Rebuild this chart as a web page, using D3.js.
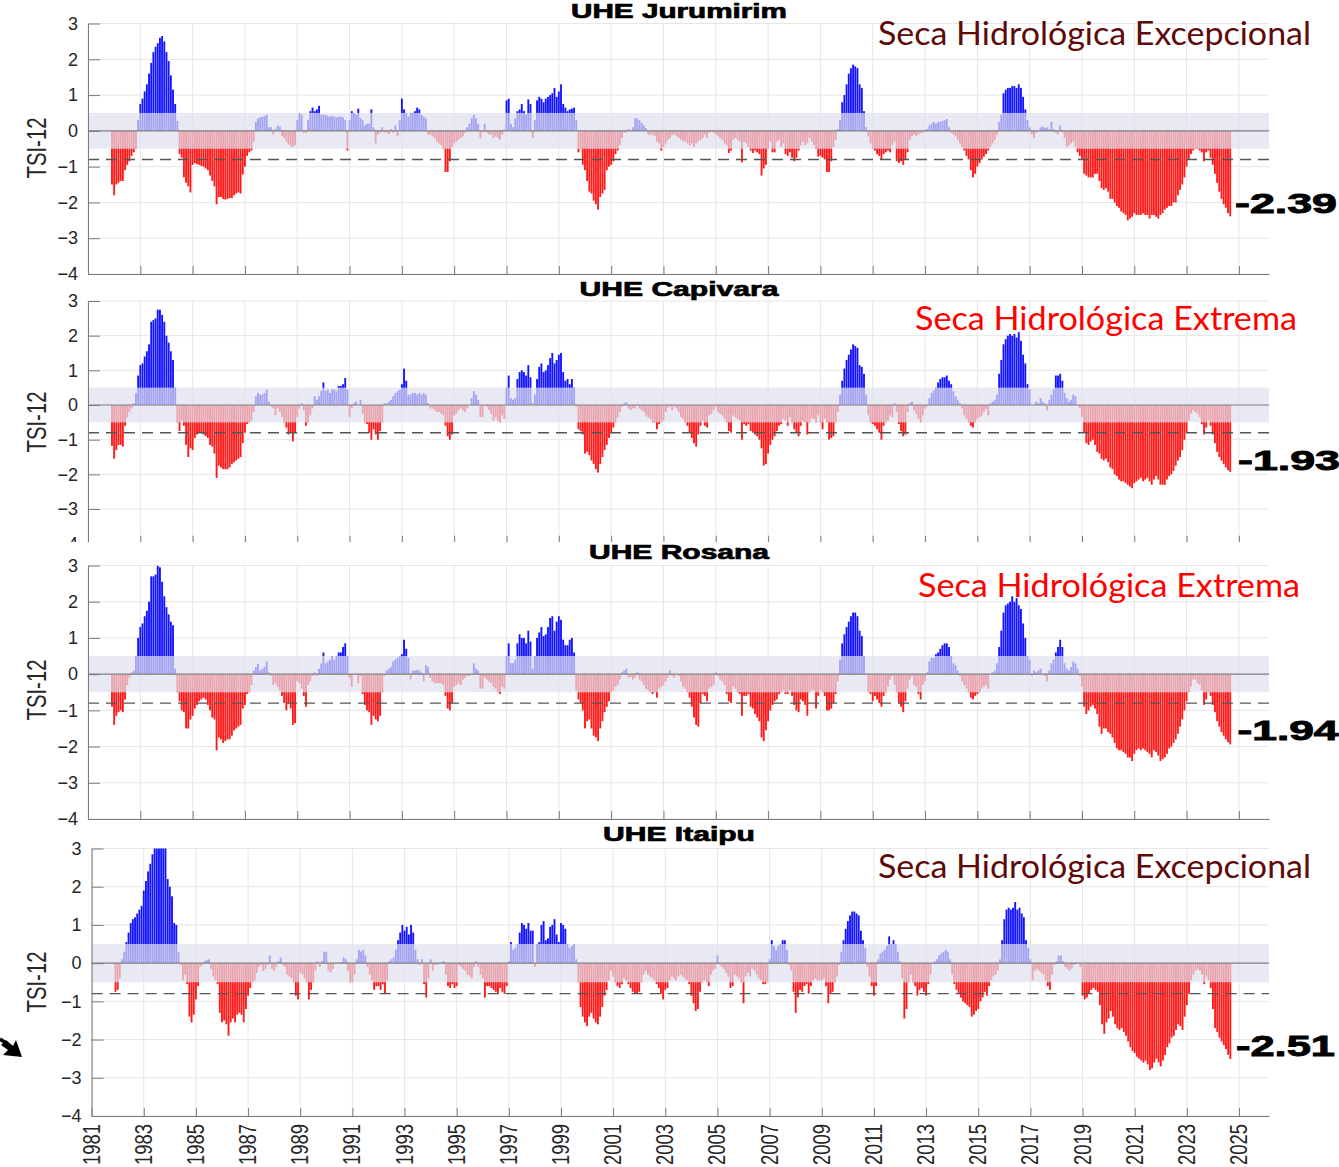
<!DOCTYPE html>
<html><head><meta charset="utf-8">
<script src="https://cdn.jsdelivr.net/npm/d3@7"></script>
<style>body{margin:0;background:#fff}svg{display:block}</style>
</head><body>
<svg id="chart" width="1339" height="1167"></svg>
<script>
// first value = Dec 1981, then monthly to Sep 2024
const startYear = 1981, startMonth = 11;

const jurumirim = [-1.5,
-1.8,-1.5,-1.45,-1.4,-1.4,-1.1,-0.95,-0.85,-0.7,-0.6,-0.5,0.3,
0.75,0.9,1.1,1.3,1.6,1.9,2.2,2.35,2.45,2.6,2.65,2.5,
2.2,1.95,1.55,1.15,0.75,0.28,-0.65,-0.75,-1.3,-1.45,-1.55,-1.72,
-0.95,-0.9,-0.93,-0.95,-0.98,-1.0,-1.05,-1.1,-1.25,-1.4,-1.55,-2.05,
-1.85,-1.85,-1.9,-1.92,-1.9,-1.88,-1.88,-1.8,-1.75,-1.72,-1.75,-1.22,
-1.0,-0.7,-0.6,-0.55,-0.3,0.25,0.35,0.38,0.4,0.42,0.45,0.1,
0.1,-0.1,0.05,0.15,0.12,-0.15,-0.2,-0.3,-0.38,-0.43,-0.45,-0.4,
0.3,0.5,0.45,-0.05,-0.05,0.3,0.55,0.65,0.55,0.6,0.7,0.45,
0.45,0.45,0.42,0.4,0.42,0.4,0.38,0.4,0.4,0.38,0.3,-0.55,
0.3,0.55,0.5,0.45,0.62,0.35,0.3,0.15,0.2,0.2,0.6,0.1,
-0.35,-0.1,-0.05,0.1,-0.05,-0.05,-0.08,0.05,-0.05,0.15,-0.15,0.3,
0.9,0.6,0.5,0.4,0.5,0.5,0.55,0.65,0.6,0.45,0.4,0.35,
-0.1,-0.1,-0.15,-0.2,-0.3,-0.35,-0.4,-0.5,-1.15,-1.15,-0.85,-0.45,
-0.35,-0.3,-0.25,-0.2,-0.15,-0.05,0.1,0.2,0.35,0.45,0.35,0.2,
-0.2,-0.05,0.2,-0.05,-0.1,-0.1,-0.2,-0.15,-0.2,-0.25,-0.1,0.05,
0.85,0.9,0.2,0.1,0.35,0.55,0.6,0.75,0.55,0.45,0.88,0.75,
-0.2,0.3,0.85,0.95,0.9,0.8,0.9,0.95,1.0,1.05,1.2,0.95,
1.1,1.3,0.75,0.65,0.55,0.6,0.62,0.65,0.3,-0.6,-0.5,-0.95,
-1.1,-1.4,-1.7,-1.75,-1.95,-2.05,-2.2,-1.85,-1.75,-1.65,-1.1,-1.0,
-0.95,-0.85,-0.65,-0.55,-0.4,-0.2,-0.05,-0.05,0.05,0.0,0.1,0.35,
0.35,0.3,0.22,0.15,0.08,-0.1,-0.12,-0.1,-0.15,-0.3,-0.35,-0.55,
-0.45,-0.35,-0.25,-0.2,-0.12,-0.1,-0.15,-0.2,-0.25,-0.3,-0.3,-0.35,
-0.4,-0.35,-0.45,-0.35,-0.3,-0.25,-0.2,-0.1,-0.2,-0.05,-0.02,-0.05,
-0.1,-0.15,-0.2,-0.25,-0.35,-0.4,-0.62,-0.55,-0.25,-0.2,-0.25,-0.3,
-0.88,-0.3,-0.35,-0.45,-0.55,-0.62,-0.55,-0.6,-0.65,-1.25,-1.05,-0.95,
-0.5,-0.3,-0.6,-0.6,-0.3,-0.25,-0.45,-0.35,-0.65,-0.7,-0.6,-0.75,
-0.85,-0.75,-0.55,-0.4,-0.3,-0.4,-0.35,-0.2,-0.3,-0.4,-0.5,-0.72,
-0.7,-0.75,-0.8,-1.15,-1.15,-0.85,-0.45,-0.25,0.05,0.3,0.8,1.0,
1.3,1.6,1.75,1.85,1.8,1.75,1.3,1.2,0.55,0.1,-0.15,-0.35,
-0.5,-0.55,-0.65,-0.7,-0.8,-0.65,-0.6,-0.55,-0.6,-0.4,-0.3,-0.85,
-0.9,-0.85,-0.95,-0.8,-0.6,-0.25,-0.15,-0.1,-0.15,-0.1,-0.05,-0.05,
0.0,0.05,0.15,0.2,0.25,0.2,0.25,0.25,0.28,0.3,0.33,0.1,
-0.05,-0.1,-0.15,-0.25,-0.35,-0.45,-0.55,-0.7,-0.8,-1.1,-1.3,-1.2,
-1.0,-0.9,-0.8,-0.72,-0.65,-0.55,-0.45,-0.35,-0.25,-0.1,0.25,0.45,
1.05,1.15,1.2,1.2,1.25,1.25,1.2,1.3,1.2,0.95,0.6,0.3,
0.1,-0.1,-0.2,-0.05,0.0,0.1,0.12,0.08,0.1,0.05,0.25,0.05,
-0.05,-0.1,0.15,-0.05,-0.2,-0.45,-0.4,-0.35,-0.3,-0.45,-0.6,-0.7,
-0.8,-1.2,-1.25,-1.3,-1.3,-1.3,-1.2,-1.2,-1.4,-1.6,-1.65,-1.6,
-1.7,-1.9,-1.9,-2.0,-2.1,-2.15,-2.25,-2.3,-2.35,-2.5,-2.45,-2.4,
-2.3,-2.35,-2.35,-2.35,-2.3,-2.35,-2.35,-2.45,-2.35,-2.35,-2.4,-2.45,
-2.35,-2.3,-2.2,-2.15,-2.1,-2.1,-2.0,-2.0,-1.8,-1.65,-1.5,-1.3,
-1.0,-0.8,-0.65,-0.55,-0.5,-0.5,-0.55,-0.6,-0.85,-0.6,-0.55,-0.75,
-0.95,-1.2,-1.45,-1.7,-1.9,-2.05,-2.15,-2.3,-2.39];

const capivara = [-1.18,
-1.55,-1.3,-1.15,-1.15,-1.2,-0.6,-0.35,-0.2,-0.1,0.05,0.35,0.85,
1.15,1.2,1.4,1.55,1.75,2.4,2.45,2.5,2.75,2.75,2.6,2.4,
2.0,1.8,1.55,1.3,0.5,-0.5,-0.75,-0.45,-0.6,-1.15,-1.5,-1.25,
-1.3,-0.95,-0.85,-0.8,-0.8,-0.85,-0.9,-0.95,-1.15,-1.2,-1.4,-2.1,
-1.75,-1.8,-1.85,-1.85,-1.85,-1.8,-1.7,-1.65,-1.6,-1.55,-1.5,-1.1,
-0.8,-0.55,-0.5,-0.45,-0.2,0.25,0.35,0.3,0.3,0.35,0.45,0.1,
-0.05,-0.1,-0.3,-0.1,-0.2,-0.35,-0.5,-0.65,-0.85,-0.8,-1.05,-0.8,
-0.35,-0.1,0.05,-0.15,-0.6,-0.5,-0.3,-0.1,0.25,0.15,0.25,0.4,
0.65,0.4,0.45,0.35,0.45,0.45,0.4,0.55,0.55,0.6,0.78,0.45,
-0.35,-0.1,0.05,0.1,0.0,0.15,-0.25,-0.5,-0.55,-0.8,-1.0,-0.7,
-0.85,-1.0,-0.75,-0.5,0.05,0.05,0.1,0.15,0.25,0.35,0.4,0.45,
0.6,1.05,0.7,0.3,0.3,0.35,0.35,0.3,0.35,0.3,0.35,0.3,
0.05,-0.1,-0.1,-0.15,-0.2,-0.2,-0.25,-0.3,-0.6,-0.9,-1.0,-0.85,
-0.3,-0.25,-0.15,-0.1,-0.15,-0.2,-0.1,0.0,0.2,0.4,0.3,0.15,
-0.35,-0.35,0.0,-0.05,-0.15,-0.25,-0.45,-0.35,-0.45,-0.5,-0.3,-0.4,
0.5,0.85,0.2,0.15,0.2,0.75,0.95,1.0,0.95,0.85,1.15,0.8,
0.05,0.3,0.75,1.1,1.2,0.95,1.0,1.15,1.35,1.5,1.2,1.3,
1.45,1.5,0.95,0.7,0.75,0.6,0.75,0.5,-0.05,-0.7,-0.75,-0.85,
-1.4,-1.35,-1.45,-1.6,-1.7,-1.85,-1.95,-1.7,-1.5,-1.3,-1.15,-0.95,
-0.8,-0.65,-0.5,-0.35,-0.2,-0.05,0.05,0.08,-0.1,-0.15,-0.1,-0.1,
0.02,-0.1,-0.15,-0.2,-0.3,-0.35,-0.4,-0.5,-0.5,-0.7,-0.55,-0.5,
-0.45,-0.2,-0.08,-0.05,-0.15,-0.05,-0.1,-0.2,-0.35,-0.4,-0.5,-0.6,
-0.8,-0.95,-1.1,-1.2,-0.85,-0.6,-0.45,-0.6,-0.65,-0.3,-0.25,-0.15,
-0.05,-0.2,-0.25,-0.3,-0.4,-0.5,-0.75,-0.8,-0.3,-0.35,-0.4,-0.45,
-1.0,-0.55,-0.6,-0.55,-0.75,-0.8,-0.85,-0.9,-1.0,-1.25,-1.75,-1.7,
-1.4,-1.15,-1.0,-0.9,-0.75,-0.6,-0.55,-0.4,-0.45,-0.6,-0.35,-0.5,
-0.7,-0.8,-0.9,-0.6,-0.45,-0.5,-0.85,-0.5,-0.4,-0.4,-0.5,-0.3,
-0.5,-0.7,-0.4,-0.5,-1.0,-0.95,-0.9,-0.5,-0.2,0.3,0.7,1.05,
1.3,1.45,1.6,1.75,1.7,1.65,1.15,1.1,0.9,0.3,-0.3,-0.5,
-0.55,-0.6,-0.7,-0.8,-1.0,-0.6,-0.5,-0.45,-0.3,-0.35,0.05,-0.2,
-0.55,-0.75,-0.9,-0.85,-0.2,0.05,0.1,-0.15,-0.25,-0.4,-0.5,-0.3,
-0.1,-0.05,0.2,0.35,0.42,0.5,0.65,0.75,0.8,0.8,0.85,0.7,
0.6,0.4,0.25,0.15,0.05,-0.1,-0.3,-0.4,-0.5,-0.6,-0.65,-0.5,
-0.4,-0.35,-0.3,-0.2,-0.12,-0.3,0.05,0.1,0.15,0.3,0.9,1.3,
1.75,1.9,2.0,2.05,2.0,2.05,1.95,2.1,1.85,1.45,1.2,0.6,
0.45,0.0,0.0,0.1,0.05,0.2,0.1,0.05,-0.15,0.15,0.3,0.45,
0.85,0.85,0.9,0.7,0.35,0.2,0.1,0.15,0.3,0.25,0.0,-0.1,
-0.35,-0.8,-1.1,-1.15,-1.05,-1.0,-1.15,-1.35,-1.4,-1.55,-1.6,-1.55,
-1.65,-1.8,-1.85,-2.0,-2.05,-2.15,-2.2,-2.2,-2.25,-2.3,-2.35,-2.4,
-2.25,-2.2,-2.15,-2.1,-2.2,-2.15,-2.1,-2.2,-2.3,-2.15,-2.05,-2.15,
-2.3,-2.3,-2.3,-2.15,-2.05,-2.0,-1.9,-1.75,-1.6,-1.5,-1.3,-1.0,
-0.8,-0.45,-0.25,-0.15,-0.2,-0.25,-0.35,-0.55,-0.85,-0.65,-0.45,-0.6,
-0.85,-1.1,-1.35,-1.5,-1.6,-1.7,-1.8,-1.88,-1.93];

const rosana = [-0.9,
-1.4,-1.15,-1.05,-1.0,-1.05,-0.7,-0.3,-0.1,0.05,0.1,0.5,1.0,
1.3,1.4,1.6,1.75,2.0,2.7,2.7,2.75,3.0,2.95,2.55,2.15,
1.85,1.65,1.45,1.35,0.15,-0.5,-0.75,-1.0,-1.05,-1.5,-1.5,-1.25,
-1.15,-0.95,-0.85,-0.75,-0.7,-0.65,-0.7,-0.85,-1.0,-1.2,-1.25,-2.1,
-1.75,-1.8,-1.9,-1.85,-1.8,-1.8,-1.7,-1.55,-1.5,-1.45,-1.4,-0.95,
-0.85,-0.55,-0.5,-0.3,0.1,0.2,0.28,0.1,0.15,0.2,0.35,0.05,
-0.05,-0.3,-0.25,-0.35,-0.45,-0.6,-0.8,-1.0,-0.8,-0.95,-1.4,-1.35,
-0.2,-0.25,-0.4,-0.6,-0.9,-0.3,-0.2,-0.05,0.05,-0.05,0.15,0.3,
0.6,0.3,0.35,0.4,0.5,0.4,0.5,0.6,0.6,0.75,0.85,0.5,
-0.1,-0.35,0.0,0.0,-0.25,-0.05,-0.55,-0.85,-1.0,-1.05,-1.4,-1.15,
-1.25,-1.3,-1.15,-0.5,-0.05,0.1,0.15,0.2,0.35,0.4,0.45,0.5,
0.55,0.95,0.7,0.45,-0.15,0.1,0.1,0.12,0.1,0.05,-0.2,0.25,
0.2,-0.1,-0.2,-0.25,-0.25,-0.25,-0.25,-0.3,-0.6,-0.95,-1.0,-0.8,
-0.35,-0.3,-0.25,-0.3,-0.15,-0.1,-0.05,-0.05,0.0,0.3,0.15,0.1,
-0.4,-0.4,-0.1,-0.15,-0.2,-0.25,-0.35,-0.4,-0.5,-0.55,-0.35,-0.4,
0.5,0.85,0.3,0.3,0.4,0.85,1.1,1.0,1.0,0.85,1.2,0.9,
0.15,0.5,1.0,1.15,1.3,1.05,1.1,1.3,1.55,1.6,1.2,1.45,
1.6,1.5,0.95,0.8,0.8,0.95,1.0,0.6,-0.45,-0.7,-0.8,-1.0,
-1.5,-1.3,-1.25,-1.5,-1.7,-1.75,-1.85,-1.5,-1.3,-1.05,-0.9,-0.75,
-0.5,-0.45,-0.35,-0.3,-0.15,0.05,0.1,0.15,-0.1,-0.08,-0.15,-0.1,
0.05,-0.15,-0.2,-0.3,-0.4,-0.45,-0.5,-0.55,-0.5,-0.65,-0.4,-0.35,
-0.3,-0.2,-0.1,0.1,-0.05,-0.1,0.0,-0.05,-0.2,-0.35,-0.4,-0.5,
-0.65,-0.9,-1.2,-1.4,-1.45,-0.8,-0.55,-0.6,-0.75,-0.4,-0.35,-0.3,
0.05,-0.05,-0.15,-0.2,-0.3,-0.55,-0.75,-0.8,-0.35,-0.4,-0.5,-0.55,
-1.15,-0.6,-0.6,-0.55,-0.9,-0.95,-1.1,-1.2,-1.3,-1.75,-1.85,-1.55,
-1.3,-1.0,-0.85,-0.75,-0.7,-0.55,-0.5,-0.45,-0.55,-0.55,-0.45,-0.6,
-0.85,-1.0,-1.05,-0.7,-0.75,-0.85,-1.15,-0.5,-0.45,-0.45,-0.95,-0.6,
-0.45,-0.5,-0.6,-1.0,-1.0,-0.95,-0.8,-0.55,-0.2,0.4,0.85,1.1,
1.3,1.45,1.6,1.7,1.7,1.6,1.2,1.05,0.5,0.0,-0.5,-0.55,
-0.75,-0.6,-0.7,-0.8,-0.9,-0.6,-0.5,-0.35,-0.15,-0.05,-0.3,-0.5,
-0.8,-0.9,-1.05,-0.75,-0.4,-0.15,-0.05,-0.3,-0.35,-0.55,-0.7,-0.3,
-0.2,0.05,0.35,0.45,0.45,0.55,0.6,0.7,0.8,0.85,0.85,0.75,
0.5,0.3,0.25,0.1,-0.05,-0.2,-0.3,-0.4,-0.5,-0.65,-0.7,-0.6,
-0.55,-0.5,-0.4,-0.35,-0.3,-0.4,0.0,0.05,0.1,0.3,0.75,1.2,
1.7,1.9,1.95,2.0,2.15,2.0,2.1,1.9,1.8,1.4,1.0,0.5,
0.4,-0.05,0.1,0.05,0.1,0.15,0.0,-0.05,-0.2,0.1,0.3,0.4,
0.6,0.75,0.95,0.75,0.3,0.15,0.1,0.2,0.35,0.3,0.15,-0.05,
-0.35,-0.9,-1.1,-1.0,-0.9,-0.85,-0.95,-1.1,-1.45,-1.65,-1.5,-1.5,
-1.6,-1.65,-1.75,-1.9,-2.05,-2.1,-2.1,-2.15,-2.2,-2.3,-2.3,-2.4,
-2.2,-2.1,-2.05,-2.1,-2.05,-2.1,-2.15,-2.2,-2.3,-2.1,-2.15,-2.25,
-2.4,-2.35,-2.3,-2.2,-2.05,-2.0,-1.9,-1.8,-1.65,-1.45,-1.25,-1.0,
-0.75,-0.5,-0.35,-0.15,-0.15,-0.25,-0.3,-0.45,-0.85,-0.7,-0.5,-0.6,
-0.85,-1.05,-1.3,-1.45,-1.6,-1.7,-1.8,-1.88,-1.94];

const itaipu = [-0.75,
-0.7,-0.4,0.1,0.3,0.55,0.8,1.05,1.15,1.2,1.3,1.4,1.5,
1.9,2.15,2.4,2.6,2.85,3.1,3.3,3.4,3.4,3.3,3.2,2.2,
2.0,1.75,1.05,1.0,0.3,-0.05,-0.45,-0.3,-0.55,-1.4,-1.55,-1.35,
-0.95,-0.6,-0.1,-0.05,0.05,0.08,0.1,-0.15,-0.35,-0.45,-0.55,-1.3,
-1.55,-1.5,-1.6,-1.9,-1.55,-1.45,-1.55,-1.35,-1.3,-1.35,-1.55,-1.2,
-0.85,-0.65,-0.5,-0.45,-0.25,-0.1,-0.05,-0.2,-0.15,-0.05,0.2,-0.15,
-0.2,-0.1,0.05,0.15,-0.05,-0.1,-0.3,-0.35,-0.4,-0.5,-0.85,-0.95,
-0.25,-0.3,-0.4,-0.5,-0.95,-0.7,-0.5,-0.2,0.05,-0.1,0.05,0.3,
0.3,-0.2,-0.25,-0.15,0.0,0.02,-0.02,0.03,0.15,0.1,-0.2,-0.5,
-0.5,-0.3,0.1,0.35,0.3,0.35,0.2,-0.1,-0.3,-0.45,-0.7,-0.6,
-0.6,-0.7,-0.55,-0.8,-0.45,0.05,0.1,0.15,0.35,0.6,0.8,1.0,
0.85,0.95,0.75,1.0,0.8,0.35,0.1,-0.05,0.1,-0.55,-0.9,-0.4,
0.1,-0.2,-0.05,-0.05,-0.03,0.02,0.05,-0.3,-0.6,-0.65,-0.55,-0.65,
-0.6,-0.05,-0.1,-0.15,-0.2,-0.3,-0.35,-0.4,-0.1,0.05,-0.1,-0.3,
-0.4,-0.9,-0.6,-0.6,-0.65,-0.7,-0.75,-0.8,-0.65,-0.75,-0.8,-0.6,
0.05,0.55,0.35,0.4,0.5,0.8,1.05,1.0,0.9,1.05,0.85,0.85,
-0.1,0.5,0.55,1.0,1.1,0.6,0.65,0.95,1.0,1.15,0.75,0.55,
1.05,1.0,0.9,0.5,0.4,0.45,0.5,0.1,-0.5,-1.15,-1.4,-1.55,
-1.65,-1.4,-1.3,-1.45,-1.55,-1.6,-1.4,-1.15,-0.85,-0.7,-0.45,-0.2,
-0.35,-0.5,-0.6,-0.65,-0.55,-0.4,-0.45,-0.55,-0.65,-0.75,-0.8,-0.8,
-0.75,-0.5,-0.3,-0.2,-0.3,-0.35,-0.4,-0.45,-0.55,-0.65,-0.8,-0.95,
-0.7,-0.65,-0.45,-0.35,-0.4,-0.45,-0.35,-0.3,-0.35,-0.4,-0.45,-0.55,
-0.85,-1.05,-1.25,-1.2,-0.75,-0.5,-0.45,-0.5,-0.6,-0.3,-0.2,-0.15,
0.2,-0.05,-0.1,-0.15,-0.25,-0.35,-0.65,-0.6,-0.3,-0.35,-0.4,-0.5,
-1.05,-0.35,-0.25,-0.35,-0.15,-0.2,-0.3,-0.4,-0.45,-0.55,-0.55,-0.5,
0.1,0.6,0.45,0.35,0.45,0.5,0.6,0.6,0.35,-0.05,-0.2,-0.75,
-1.3,-0.9,-0.7,-0.75,-0.6,-0.55,-0.8,-0.6,-0.45,-0.4,-0.45,-0.45,
-0.45,-0.4,-0.6,-1.05,-0.8,-0.75,-0.5,-0.35,-0.05,0.3,0.6,0.9,
1.1,1.25,1.35,1.35,1.3,1.25,0.85,0.6,0.4,-0.1,-0.35,-0.6,
-0.85,-0.6,0.1,0.25,0.3,0.35,0.45,0.7,0.5,0.6,0.5,0.3,
0.05,-0.4,-1.45,-1.2,-0.5,-0.3,-0.5,-0.6,-0.85,-0.7,-0.65,-0.75,
-0.85,-0.55,-0.3,0.0,0.05,0.1,0.2,0.25,0.3,0.35,0.3,0.1,
-0.3,-0.55,-0.7,-0.8,-0.9,-1.0,-1.05,-1.1,-1.15,-1.4,-1.35,-1.25,
-1.2,-1.0,-0.9,-0.75,-0.85,-0.6,-0.45,-0.35,-0.3,-0.2,0.1,0.6,
1.15,1.4,1.45,1.4,1.45,1.6,1.4,1.45,1.3,1.2,0.6,0.4,
0.1,-0.45,-0.2,-0.15,-0.2,-0.25,-0.3,-0.45,-0.6,-0.7,-0.3,-0.05,
0.05,0.2,0.2,0.05,-0.1,-0.15,-0.2,-0.15,-0.05,0.02,0.0,-0.1,
-0.85,-0.95,-0.9,-0.8,-0.7,-0.65,-0.7,-0.75,-1.1,-1.6,-1.85,-1.55,
-1.45,-1.25,-1.4,-1.6,-1.7,-1.75,-1.7,-1.8,-1.9,-2.05,-2.2,-2.3,
-2.35,-2.45,-2.5,-2.55,-2.6,-2.55,-2.65,-2.8,-2.75,-2.6,-2.5,-2.6,
-2.7,-2.55,-2.4,-2.2,-2.1,-1.95,-1.9,-1.75,-1.6,-1.65,-1.75,-1.4,
-1.1,-0.8,-0.45,-0.3,-0.2,-0.15,-0.2,-0.3,-0.55,-0.35,-0.45,-0.65,
-1.2,-1.7,-1.8,-1.95,-2.05,-2.15,-2.25,-2.4,-2.51];

const panelTitles = ["UHE Jurumirim", "UHE Capivara", "UHE Rosana", "UHE Itaipu"];
const droughtLabels = ["Seca Hidrológica Excepcional", "Seca Hidrológica Extrema", "Seca Hidrológica Extrema", "Seca Hidrológica Excepcional"];
const droughtColors = ["#5e0a0a", "#ff0000", "#ff0000", "#5e0a0a"];
const lastValueLabels = ["-2.39", "-1.93", "-1.94", "-2.51"];
const yTickValues = [-4, -3, -2, -1, 0, 1, 2, 3];
const xTickYears = d3.range(1981, 2026, 2);
const bandLimit = 0.5;
const droughtLine = -0.8;
const yAxisTitle = "TSI-12";

const series = [jurumirim, capivara, rosana, itaipu];

// layout (pixel geometry)
const L = [
  {x0: 88, x1: 1269, yTop: 23.5, yBot: 274, tY: 17.5, tLen: 216, dX: 878, dY: 45, dLen: 433, vX: 1235, vY: 213, vLen: 102, vSize: 27, yl: 148},
  {x0: 88, x1: 1269, yTop: 301, yBot: 543.7, tY: 296, tLen: 199, dX: 915, dY: 330, dLen: 382, vX: 1238, vY: 470, vLen: 102, vSize: 27, yl: 422},
  {x0: 88, x1: 1269, yTop: 565.5, yBot: 819, tY: 558.5, tLen: 180, dX: 918, dY: 596.5, dLen: 382, vX: 1237.5, vY: 740, vLen: 101, vSize: 27, yl: 690, cover: 542},
  {x0: 91.6, x1: 1269, yTop: 848.5, yBot: 1116, tY: 841.3, tLen: 152, dX: 878, dY: 878, dLen: 433, vX: 1236, vY: 1056, vLen: 99, vSize: 30, yl: 982, xLabels: true}
];

const svg = d3.select("#chart");
const blue = "#1414ff", red = "#ff1a1a";
const font = "'Liberation Sans', Arial, Helvetica, sans-serif";

series.forEach((vals, p) => {
  const lay = L[p];
  const g = svg.append("g");
  if (lay.cover !== undefined) {
    g.append("rect").attr("x", 0).attr("y", lay.cover).attr("width", 1339).attr("height", lay.yTop - lay.cover).attr("fill", "#fff");
  }
  const x = d3.scaleLinear().domain([1981, 2026.15]).range([lay.x0, lay.x1]);
  const y = d3.scaleLinear().domain([-4, 3]).range([lay.yBot, lay.yTop]);
  const mw = x(1981 + 1 / 12) - x(1981);
  const bw = mw * 0.86;

  // grid
  g.append("g").selectAll("line").data(yTickValues).join("line")
    .attr("x1", lay.x0).attr("x2", lay.x1).attr("y1", d => y(d)).attr("y2", d => y(d))
    .attr("stroke", "#e6e6e6").attr("stroke-width", 1);
  g.append("g").selectAll("line").data(xTickYears).join("line")
    .attr("x1", d => x(d)).attr("x2", d => x(d)).attr("y1", lay.yTop).attr("y2", lay.yBot)
    .attr("stroke", "#e6e6e6").attr("stroke-width", 1);

  // clip
  const cid = "clip" + p;
  svg.append("clipPath").attr("id", cid).append("rect")
    .attr("x", lay.x0).attr("y", lay.yTop).attr("width", lay.x1 - lay.x0).attr("height", lay.yBot - lay.yTop);

  const data = vals.map((v, i) => ({t: startYear + (startMonth + i) / 12, v}));
  g.append("g").attr("clip-path", `url(#${cid})`).selectAll("rect").data(data).join("rect")
    .attr("x", d => x(d.t) - bw / 2).attr("width", bw)
    .attr("y", d => Math.min(y(d.v), y(0)))
    .attr("height", d => Math.abs(y(d.v) - y(0)))
    .attr("fill", d => d.v >= 0 ? blue : red);

  // normal band overlay
  g.append("rect").attr("x", lay.x0).attr("width", lay.x1 - lay.x0)
    .attr("y", y(bandLimit)).attr("height", y(-bandLimit) - y(bandLimit))
    .attr("fill", "rgb(224,224,238)").attr("fill-opacity", 0.71);

  // zero line & drought threshold
  g.append("line").attr("x1", lay.x0).attr("x2", lay.x1).attr("y1", y(0)).attr("y2", y(0))
    .attr("stroke", "#808080").attr("stroke-width", 1.2);
  g.append("line").attr("x1", lay.x0).attr("x2", lay.x1).attr("y1", y(droughtLine)).attr("y2", y(droughtLine))
    .attr("stroke", "#555").attr("stroke-width", 1.3).attr("stroke-dasharray", "11,7");

  // axes
  const ay = g.append("g").attr("transform", `translate(${lay.x0},0)`)
    .call(d3.axisLeft(y).tickValues(yTickValues).tickSizeInner(-12).tickSizeOuter(0).tickPadding(10).tickFormat(d3.format("d")));
  const ax = g.append("g").attr("transform", `translate(0,${lay.yBot})`)
    .call(d3.axisBottom(x).tickValues(xTickYears).tickSizeInner(-8).tickSizeOuter(0).tickFormat(""));
  [ay, ax].forEach(a => {
    a.select(".domain").attr("stroke", "#7a7a7a");
    a.selectAll(".tick line").attr("stroke", "#7a7a7a");
  });
  ay.selectAll("text").attr("font-family", font).attr("font-size", 18).attr("fill", "#262626");

  if (lay.xLabels) {
    g.append("g").selectAll("text").data(xTickYears).join("text")
      .attr("transform", d => `translate(${x(d) + 8},${lay.yBot + 8}) rotate(-90)`)
      .attr("text-anchor", "end").attr("font-family", font).attr("font-size", 24)
      .attr("textLength", 41).attr("lengthAdjust", "spacingAndGlyphs")
      .attr("fill", "#262626").text(d => d);
  }

  // y axis title
  g.append("text").attr("transform", `translate(46,${lay.yl}) rotate(-90)`)
    .attr("text-anchor", "middle").attr("font-family", font).attr("font-size", 27)
    .attr("textLength", 61).attr("lengthAdjust", "spacingAndGlyphs")
    .attr("fill", "#262626").text(yAxisTitle);

  // panel title
  g.append("text").attr("x", 679).attr("y", lay.tY).attr("text-anchor", "middle")
    .attr("font-family", font).attr("font-weight", "bold").attr("font-size", 20)
    .attr("textLength", lay.tLen).attr("lengthAdjust", "spacingAndGlyphs")
    .attr("stroke", "#000").attr("stroke-width", 0.7)
    .attr("fill", "#000").text(panelTitles[p]);

  // drought classification label
  g.append("text").attr("x", lay.dX).attr("y", lay.dY)
    .attr("font-family", "Lato, 'Open Sans', sans-serif").attr("font-size", 33)
    .attr("textLength", lay.dLen).attr("lengthAdjust", "spacingAndGlyphs")
    .attr("fill", droughtColors[p]).text(droughtLabels[p]);

  // last value label
  g.append("text").attr("x", lay.vX).attr("y", lay.vY)
    .attr("font-family", font).attr("font-weight", "bold").attr("font-size", lay.vSize)
    .attr("textLength", lay.vLen).attr("lengthAdjust", "spacingAndGlyphs")
    .attr("stroke", "#000").attr("stroke-width", 0.9)
    .attr("fill", "#000").text(lastValueLabels[p]);
});

// arrow fragment at bottom-left
svg.append("path").attr("d", "M0,1039 L13,1048").attr("stroke", "#000").attr("stroke-width", 3.5);
svg.append("path").attr("d", "M22,1057 L3,1055 L8,1050 L1,1045 L6,1040 L13,1046 L16,1040 Z").attr("fill", "#000");
</script>
</body></html>
